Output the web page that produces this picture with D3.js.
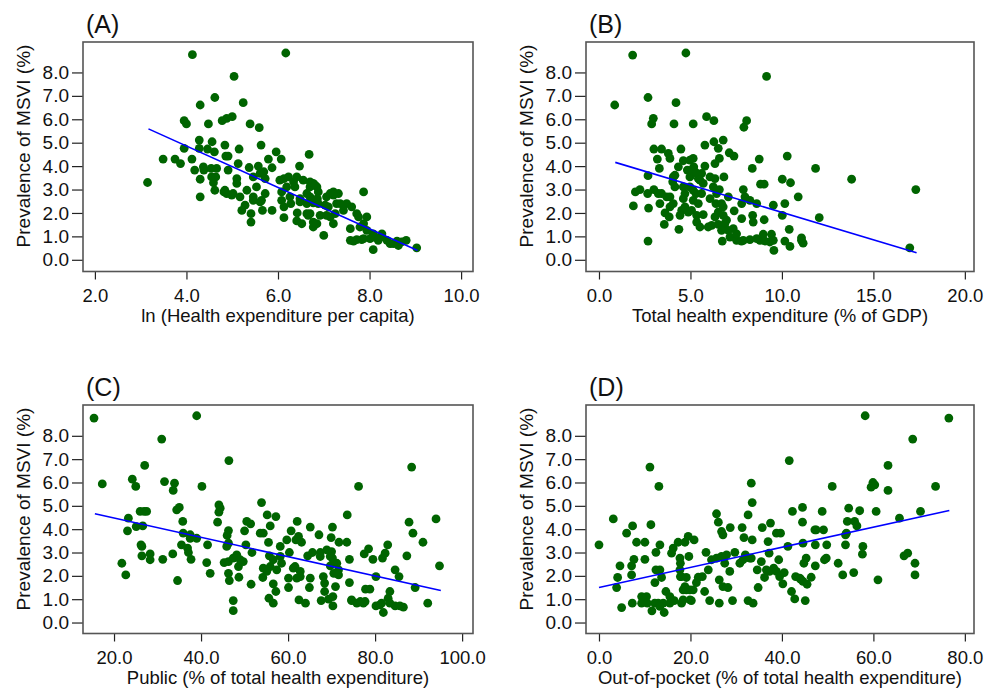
<!DOCTYPE html>
<html><head><meta charset="utf-8">
<script src="https://cdn.jsdelivr.net/npm/d3@7"></script>
<style>
html,body{margin:0;padding:0;background:#fff;}
svg{display:block;font-family:"Liberation Sans",Arial,sans-serif;}
</style></head>
<body><svg id="chart" width="989" height="690"></svg>
<script>
// ---------- DATA ----------
const panelLabels = ["(A)", "(B)", "(C)", "(D)"];
const xTitles = ["ln (Health expenditure per capita)", "Total health expenditure (% of GDP)",
  "Public (% of total health expenditure)", "Out-of-pocket (% of total health expenditure)"];
const yTitle = "Prevalence of MSVI (%)";
const yTicks = [0, 1, 2, 3, 4, 5, 6, 7, 8];
const xTicksA = [2, 4, 6, 8, 10];
const xTicksB = [0, 5, 10, 15, 20];
const xTicksC = [20, 40, 60, 80, 100];
const xTicksD = [0, 20, 40, 60, 80];

const pointsA = [[4.13,8.76],[6.17,8.83],[5.04,7.83],[4.62,6.93],[4.30,6.61],[5.24,6.71],[3.95,5.94],[4.00,5.80],[4.48,5.80],[4.78,5.94],[4.88,6.04],[5.00,6.11],[5.39,5.80],[5.59,5.64],[3.15,3.30],[3.49,4.30],[3.75,4.30],[3.87,4.11],[3.95,4.76],[4.12,4.30],[4.28,5.11],[4.28,4.76],[4.46,4.73],[4.56,5.04],[4.61,4.61],[4.84,4.90],[4.86,4.43],[4.91,4.43],[5.15,4.73],[5.63,4.90],[5.96,4.61],[6.07,4.30],[5.79,4.30],[6.68,4.50],[6.47,4.00],[4.18,3.83],[4.37,3.97],[4.38,3.83],[4.66,3.90],[4.91,3.83],[5.13,4.11],[5.37,3.94],[5.57,4.00],[5.69,3.76],[5.87,3.93],[4.30,3.44],[4.55,3.54],[4.64,3.54],[5.10,3.47],[5.10,3.26],[5.46,3.54],[5.61,3.69],[5.72,3.47],[6.13,3.47],[6.23,3.54],[6.34,3.33],[6.55,3.40],[6.77,3.26],[6.85,3.11],[4.59,3.29],[4.62,2.97],[4.84,2.97],[4.88,2.83],[5.02,2.83],[5.17,2.69],[5.32,2.97],[5.46,2.69],[5.64,2.54],[5.72,2.83],[4.30,2.69],[5.28,2.33],[5.21,2.11],[5.41,1.97],[5.41,1.61],[5.66,2.11],[5.87,2.11],[6.08,2.90],[6.08,2.54],[6.13,2.26],[6.13,1.80],[6.28,2.40],[6.42,2.00],[6.41,1.66],[6.48,2.47],[6.52,1.54],[6.70,2.69],[6.70,1.97],[6.77,1.40],[6.85,1.54],[6.63,1.97],[6.88,2.40],[7.00,1.04],[7.06,2.69],[7.14,2.83],[7.21,2.90],[7.32,2.83],[7.10,2.26],[7.28,2.40],[7.25,1.97],[7.21,1.54],[7.14,1.83],[7.50,2.40],[7.61,2.26],[7.72,1.97],[7.87,2.90],[7.94,1.83],[7.58,1.33],[7.79,1.40],[7.94,1.26],[8.08,0.97],[8.27,1.11],[7.58,0.83],[7.72,0.86],[7.87,0.90],[8.01,0.90],[8.19,0.83],[8.08,0.43],[8.45,0.69],[8.60,0.80],[8.80,0.83],[9.03,0.51],[6.70,3.11],[6.63,2.83],
  [6.41,3.54],[6.70,3.33],[6.81,3.19],[6.88,2.90],[6.86,2.61],[6.77,2.43],[6.63,2.40],[6.48,2.61],[6.37,3.11],[6.66,1.90],[6.92,1.90],[7.06,1.90],[7.65,0.80],[7.83,0.86],[8.38,0.83],[8.52,0.69],[8.63,0.61],[8.70,0.76],[6.26,2.69],[6.19,3.11],[6.04,3.40],[5.53,3.11],[5.46,2.54],[5.61,2.47],[4.82,2.90],[4.99,2.76],[4.54,3.90],[7.36,2.40],[7.43,2.11],[7.76,1.83],[7.87,1.54],[8.08,1.11],[8.23,0.97],[6.77,1.61],[7.21,2.76],[7.03,2.33]];

const pointsB = [[1.84,8.74],[4.75,8.83],[9.16,7.83],[0.86,6.61],[2.68,6.93],[4.21,6.71],[2.97,6.04],[2.88,5.80],[4.10,5.80],[5.15,5.80],[5.88,6.11],[6.28,5.94],[8.07,5.94],[7.92,5.66],[3.00,4.73],[3.42,4.73],[3.79,4.54],[3.88,4.33],[4.48,4.73],[3.19,4.30],[3.30,3.90],[4.61,4.23],[5.15,4.33],[5.79,4.90],[6.28,5.04],[6.52,4.76],[6.79,5.11],[7.12,4.57],[7.38,4.43],[6.34,4.11],[6.58,4.33],[5.79,4.00],[8.76,4.30],[8.38,3.90],[10.29,4.43],[11.84,3.90],[13.81,3.44],[17.32,3.00],[16.99,0.51],[2.68,3.59],[1.99,2.90],[2.24,3.00],[2.66,2.83],[3.00,3.00],[1.88,2.30],[2.71,2.21],[2.68,0.80],[3.33,2.40],[3.42,2.83],[3.61,2.00],[3.84,1.83],[3.57,1.51],[4.37,1.30],[4.03,3.33],[4.15,3.61],[4.61,3.11],[4.83,3.83],[4.97,3.54],[5.25,3.76],[5.43,3.47],[5.70,3.26],[5.30,2.83],[5.15,2.54],[4.52,2.11],[4.61,2.61],[4.88,2.04],[5.34,1.90],[5.70,1.93],[5.34,1.61],[5.52,1.40],[6.16,1.47],[6.52,1.51],[6.39,2.40],[6.52,2.04],[6.79,2.26],[6.34,3.47],[6.83,3.54],[6.58,3.00],[7.07,2.69],[7.39,2.09],[6.79,1.90],[6.88,1.54],[7.34,1.33],[7.16,0.97],[7.52,0.83],[7.79,0.80],[8.25,0.86],[6.74,0.80],[7.80,2.40],[7.80,1.76],[7.89,3.00],[7.98,2.69],[8.25,2.54],[8.40,1.90],[8.43,1.61],[8.83,3.23],[9.03,3.23],[8.62,2.40],[9.03,1.71],[9.53,2.33],[10.02,1.90],[10.16,2.40],[10.02,3.44],[10.47,3.29],[10.89,2.69],[10.40,1.30],[12.04,1.80],[8.80,0.83],[8.98,1.09],[9.43,1.09],[9.56,0.40],[9.34,0.76],[10.16,0.80],[10.44,0.57],[11.07,0.83],[11.16,0.71],[4.97,4.26],[5.18,3.97],[5.61,3.69],[4.15,3.11],[3.70,2.69],[3.88,2.26],[4.43,1.90],[4.70,2.83],[6.07,2.61],[6.34,1.83],[6.70,1.26],[7.07,1.26],
  [5.06,3.83],[5.34,3.69],[5.52,3.40],[4.97,3.11],[5.15,2.97],[5.61,2.83],[5.43,2.40],[4.70,2.26],[5.06,2.11],[6.43,2.83],[6.70,2.40],[6.97,1.69],[7.52,1.11],[7.89,0.83],[8.62,0.90],[9.07,0.80],[9.53,0.83],[11.07,0.94],[3.88,2.69],[3.24,2.83],[4.06,2.40],[5.97,1.40],[6.25,3.11],[6.07,3.54],[4.06,3.54],[4.34,3.97]];

const pointsC = [[15.4,8.76],[39.0,8.86],[30.96,7.86],[46.4,6.94],[27.05,6.73],[88.4,6.66],[17.3,5.94],[24.2,6.14],[25.0,5.83],[31.6,6.04],[33.9,5.97],[33.6,5.66],[40.2,5.83],[76.2,5.83],[26.0,4.76],[26.9,4.76],[27.5,4.76],[34.4,4.83],[35.0,4.93],[23.3,4.47],[23.1,3.93],[25.1,4.11],[26.6,4.14],[35.8,4.33],[35.9,3.83],[37.5,3.61],[39.0,3.61],[26.2,3.33],[26.4,2.86],[28.3,2.94],[28.3,2.69],[21.8,2.54],[22.7,2.04],[31.2,2.71],[33.5,2.94],[34.6,1.80],[35.5,3.33],[36.9,3.19],[37.1,3.00],[37.7,2.71],[41.3,2.57],[41.5,3.33],[42.1,2.11],[44.1,5.04],[44.4,4.90],[44.1,4.73],[43.8,4.30],[46.3,3.94],[46.0,3.73],[46.3,3.40],[45.3,2.57],[46.3,2.61],[47.4,2.76],[48.2,2.90],[49.7,2.61],[48.6,2.40],[46.3,2.11],[46.5,1.80],[48.7,1.94],[47.4,0.94],[47.4,0.51],[50.0,3.93],[50.5,4.33],[51.4,4.23],[50.3,3.33],[51.7,3.00],[51.5,1.64],[53.9,5.14],[53.6,3.83],[54.3,3.83],[55.2,4.61],[55.9,4.14],[57.2,4.54],[55.5,3.43],[55.7,2.86],[54.3,2.33],[54.2,1.93],[55.9,2.40],[56.6,2.69],[58.2,3.26],[58.5,2.54],[56.6,1.66],[57.2,1.33],[55.6,1.04],[56.6,0.83],[59.7,3.54],[60.7,3.93],[62.1,4.33],[60.3,3.00],[61.8,3.54],[63.1,3.44],[65.1,4.09],[67.1,3.76],[64.5,2.86],[65.6,3.00],[67.4,3.00],[60.1,1.90],[61.6,2.40],[62.8,2.19],[62.0,1.90],[65.1,1.90],[64.9,1.50],[60.1,1.50],[62.5,0.97],[64.0,0.83],[68.4,1.69],[68.4,1.33],[67.6,0.94],[69.3,1.00],[70.3,0.71],[70.2,4.09],[69.9,3.64],[71.7,3.44],[73.5,3.44],[73.6,4.61],[70.0,3.04],[70.2,2.76],[71.2,2.54],[69.7,2.43],[70.5,2.11],[71.6,2.04],[70.9,1.54],[74.1,2.71],[74.1,1.71],[74.6,0.94],[76.6,0.90],[77.7,0.90],[77.5,2.94],[78.5,3.16],[79.5,2.71],[77.8,1.43],[78.8,1.43],[80.2,1.97],[80.2,0.71],[81.9,0.43],[81.5,0.83],[81.7,2.76],[82.3,2.97],[82.9,3.33],[83.4,1.33],[83.0,1.04],[84.6,2.26],[85.5,1.97],[84.6,0.71],[86.5,0.66],[87.3,2.86],[87.8,4.30],[88.7,3.83],[89.2,1.50],[91.0,3.44],[92.1,0.83],[94.0,4.44],[94.8,2.43],
  [61.2,2.33],[62.8,1.97],[69.7,2.83],[70.4,2.54],[71.6,2.26],[74.6,0.97],[75.8,0.83],[77.3,0.83],[81.1,0.76],[83.4,0.83],[85.7,0.71],[49.0,2.69],[58.2,2.83],[67.4,2.83],[68.9,3.11],[57.4,2.26],[55.1,2.19],[45.9,3.26],[26.4,3.26],[37.5,3.76],[62.4,3.69],[68.1,1.97],[71.2,2.11],[70.3,1.11]];

const pointsD = [[0.0,3.33],[3.13,4.44],[4.08,1.93],[4.59,2.43],[3.86,1.50],[4.95,0.64],[6.04,3.83],[7.35,4.14],[7.64,2.71],[7.13,2.43],[7.13,2.04],[7.28,0.83],[8.22,3.44],[9.32,1.11],[9.32,0.83],[10.04,3.44],[10.04,2.71],[10.55,0.83],[11.14,6.66],[11.35,4.19],[11.57,0.50],[12.23,1.71],[12.45,3.01],[12.45,2.26],[13.1,5.83],[13.32,3.33],[13.32,2.26],[13.68,1.93],[12.95,0.83],[14.26,0.43],[14.63,1.33],[14.05,0.83],[15.5,0.83],[15.87,2.97],[16.23,3.19],[16.45,0.94],[17.3,3.44],[17.7,2.76],[17.8,2.54],[17.8,1.97],[18.05,0.83],[18.4,1.40],[18.4,0.97],[18.8,3.44],[19.1,1.93],[19.5,3.69],[19.65,2.83],[19.1,1.40],[19.9,1.40],[20.2,0.94],[20.8,3.54],[21.3,1.71],[21.7,1.94],[22.6,1.97],[23.1,1.33],[23.4,3.01],[23.9,2.26],[24.2,0.94],[24.6,2.69],[25.7,4.66],[26.1,4.30],[26.3,1.83],[26.3,0.83],[26.8,3.90],[27.1,3.76],[27.5,2.54],[27.9,2.90],[28.2,1.50],[28.6,2.19],[28.7,4.07],[29.2,0.94],[29.7,3.01],[30.8,2.54],[31.3,4.07],[31.7,3.64],[32.0,2.90],[32.6,4.61],[33.0,2.76],[33.3,5.97],[33.5,5.14],[33.5,3.54],[32.6,0.94],[33.7,0.83],[34.8,1.50],[34.6,2.26],[35.5,2.61],[35.7,4.07],[36.2,1.93],[36.6,2.26],[36.97,3.47],[37.2,2.97],[37.5,4.26],[38.2,2.33],[38.8,3.83],[39.3,2.69],[39.7,3.83],[40.2,1.66],[40.5,2.14],[41.3,3.26],[41.6,6.94],[42.1,1.33],[42.3,4.76],[42.8,1.01],[43.0,1.97],[44.1,1.86],[44.5,4.93],[44.5,4.30],[44.6,3.40],[44.8,2.54],[45.1,0.94],[45.3,2.76],[45.5,1.64],[46.4,1.94],[47.2,3.97],[47.3,3.33],[47.3,2.43],[48.8,4.76],[49.1,3.97],[49.3,2.69],[49.8,3.33],[51.0,5.83],[52.3,2.54],[53.3,2.04],[53.9,3.76],[53.9,3.33],[54.3,4.33],[54.6,4.90],[55.7,2.14],[55.9,4.33],[56.4,4.14],[57.0,4.79],[57.7,3.26],[57.6,2.93],[58.2,8.86],[59.5,5.80],[59.9,6.00],[60.3,5.90],[60.6,4.76],[61.0,1.83],[63.2,6.73],[63.2,5.66],[65.7,4.47],[66.7,2.86],[67.5,2.97],[68.6,7.86],[69.1,2.54],[69.1,2.04],[70.3,4.76],[73.6,5.83],[76.5,8.76],
  [17.7,2.26],[18.8,1.54],[17.98,1.97],[19.9,0.97],[20.6,1.40],[10.4,1.11],[12.2,0.83],[13.3,0.69],[15.5,1.11],[25.7,2.76],[26.8,2.83],[27.1,1.54],[31.5,2.69],[33.3,2.76],[37.3,2.19],[38.8,2.19],[39.5,1.97],[43.9,1.90],[44.6,1.76],[47.5,3.97],[49.7,2.76],[54.1,3.83]];

// fitted regression lines: [start, end] as [x, y]
const fitA = [[3.17,5.59],[9.05,0.40]];
const fitB = [[0.89,4.16],[17.36,0.30]];
const fitC = [[15.6,4.66],[95.1,1.37]];
const fitD = [[0.0,1.50],[76.6,4.80]];

// ---------- LAYOUT ----------
const panels = [
  {label: panelLabels[0], xTitle: xTitles[0], pts: pointsA, fit: fitA, xTicks: xTicksA, xDom: [1.74, 10.26], l: 83, r: 473, t: 42, b: 271.5, yDom: [-0.5, 9.3]},
  {label: panelLabels[1], xTitle: xTitles[1], pts: pointsB, fit: fitB, xTicks: xTicksB, xDom: [-0.71, 20.5], l: 586, r: 974, t: 42, b: 271.5, yDom: [-0.5, 9.3]},
  {label: panelLabels[2], xTitle: xTitles[2], pts: pointsC, fit: fitC, xTicks: xTicksC, xDom: [12.87, 102.5], l: 83, r: 473, t: 405, b: 633.5, yDom: [-0.47, 9.32]},
  {label: panelLabels[3], xTitle: xTitles[3], pts: pointsD, fit: fitD, xTicks: xTicksD, xDom: [-2.84, 82.0], l: 586, r: 974, t: 405, b: 633.5, yDom: [-0.47, 9.32]}
];

const svg = d3.select("#chart");
svg.append("rect").attr("width", 989).attr("height", 690).attr("fill", "#fff");
const fmt = d3.format(".1f");
const FS = 18.5;

panels.forEach(p => {
  const x = d3.scaleLinear().domain(p.xDom).range([p.l, p.r]);
  const y = d3.scaleLinear().domain(p.yDom).range([p.b, p.t]);
  const g = svg.append("g");

  // y axis
  const ya = g.append("g").attr("transform", `translate(${p.l},0)`)
    .call(d3.axisLeft(y).tickValues(yTicks).tickFormat(fmt).tickSize(11).tickPadding(3));
  ya.select(".domain").remove();
  ya.selectAll("line").attr("stroke", "#222").attr("stroke-width", 1.2);
  ya.selectAll("text").attr("font-size", 19).attr("fill", "#111").attr("font-family", "Liberation Sans, Arial, sans-serif");

  // x axis
  const xa = g.append("g").attr("transform", `translate(0,${p.b})`)
    .call(d3.axisBottom(x).tickValues(p.xTicks).tickFormat(fmt).tickSize(8).tickPadding(9));
  xa.select(".domain").remove();
  xa.selectAll("line").attr("stroke", "#222").attr("stroke-width", 1.2);
  xa.selectAll("text").attr("font-size", FS).attr("fill", "#111").attr("font-family", "Liberation Sans, Arial, sans-serif");

  // frame
  g.append("rect").attr("x", p.l).attr("y", p.t).attr("width", p.r - p.l).attr("height", p.b - p.t)
    .attr("fill", "none").attr("stroke", "#555").attr("stroke-width", 1.6);

  // points
  g.append("g").selectAll("circle").data(p.pts).join("circle")
    .attr("cx", d => x(d[0])).attr("cy", d => y(d[1])).attr("r", 4.4)
    .attr("fill", "#006400");

  // fit line
  g.append("path").datum(p.fit)
    .attr("d", d3.line().x(d => x(d[0])).y(d => y(d[1])))
    .attr("stroke", "#0000ff").attr("stroke-width", 1.6).attr("fill", "none");

  // panel label
  g.append("text").attr("x", p.l + 3).attr("y", p.t - 9).attr("font-size", 25).attr("fill", "#111").text(p.label);

  // x title
  g.append("text").attr("x", (p.l + p.r) / 2).attr("y", p.b + 50.5).attr("text-anchor", "middle")
    .attr("font-size", FS).attr("fill", "#111").text(p.xTitle);

  // y title
  const cy = p.t + 104;
  g.append("text").attr("transform", `translate(${p.l - 53},${cy}) rotate(-90)`).attr("text-anchor", "middle")
    .attr("font-size", 19).attr("fill", "#111").text(yTitle);
});
</script></body></html>
